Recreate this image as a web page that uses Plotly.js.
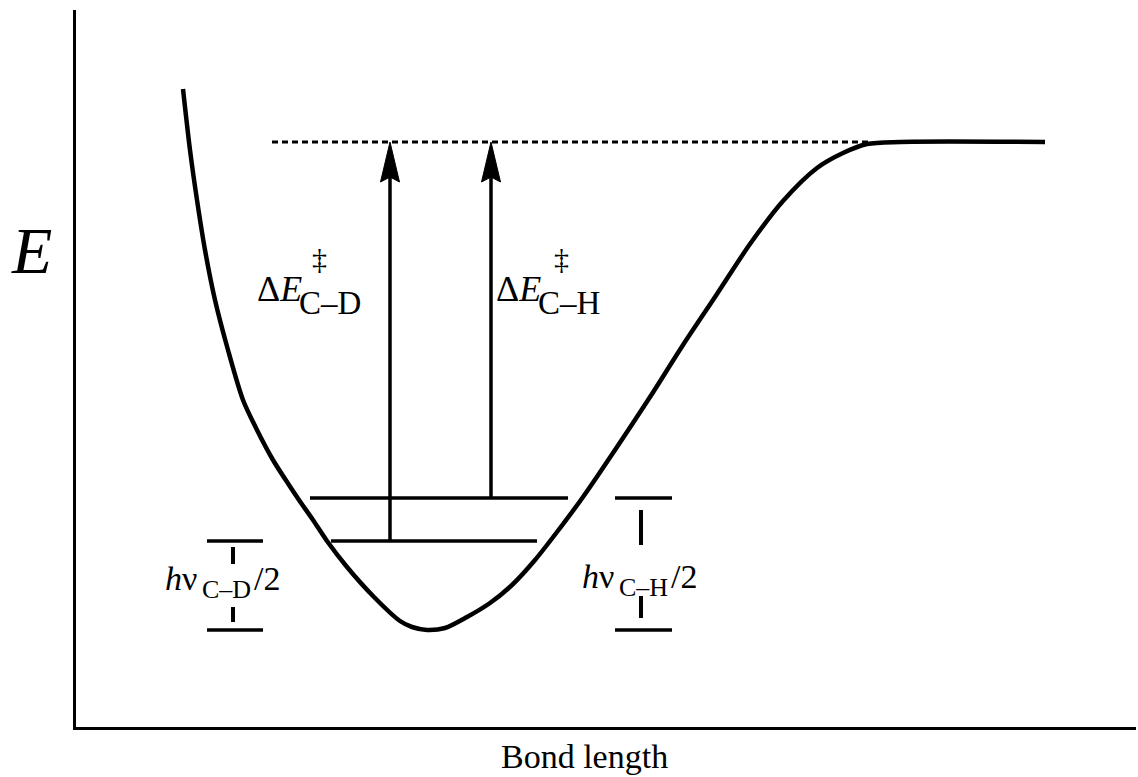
<!DOCTYPE html>
<html>
<head>
<meta charset="utf-8">
<script src="https://cdn.plot.ly/plotly-3.0.1.min.js"></script>
<style>html,body{margin:0;padding:0;background:#fff;}#chart{width:1138px;height:777px;}</style>
</head>
<body>
<div id="chart"></div>
<script>
// Potential energy curve (arbitrary units)
var bondLength = [1.07,1.14,1.21,1.29,1.39,1.52,1.67,1.81,1.97,2.13,2.23,2.37,2.51,2.71,2.98,3.24,3.36,3.51,3.69,3.91,4.14,4.36,4.59,4.81,5.07,5.41,5.74,6.07,6.41,6.74,7.07,7.41,7.67,7.91,8.24,9.69];
var energy     = [6.63,6.02,5.52,5.02,4.52,4.02,3.52,3.22,2.92,2.67,2.52,2.32,2.11,1.85,1.55,1.31,1.25,1.22,1.24,1.35,1.49,1.67,1.92,2.20,2.55,3.05,3.55,4.07,4.58,5.08,5.51,5.84,5.99,6.08,6.10,6.10];

// Axis ranges
var xRange = [0, 10.6];
var yRange = [0.25, 7.42];

// Energy levels
var minimumE = 1.22;
var dissociationE = 6.10;
var dissociationX = [1.96, 7.94];
var zpeCH = 2.54, zpeCHx = [2.34, 4.92];
var zpeCD = 2.11, zpeCDx = [2.55, 4.61];

// Activation arrows
var arrowCDx = 3.14, arrowCHx = 4.15;

// Bracket positions
var bracketCDx = [1.31, 1.87], bracketCDmid = 1.57;
var bracketCHx = [5.39, 5.96], bracketCHmid = 5.65;
var bracketCDdashes = [[2.05, 1.88], [1.45, 1.30]];
var bracketCHdashes = [[2.42, 2.07], [1.56, 1.34]];

// Label texts
var labelDeltaE = 'Δ<i>E</i>';
var labelDagger = '‡';
var labelCD = 'C–D', labelCH = 'C–H';
var labelHnu = '<i>h</i>ν', labelHalf = '/2';
var labelYaxis = '<i>E</i>', labelXaxis = 'Bond length';

var black = '#000';
var traces = [];
function seg(x, y, w, dash) {
  traces.push({x: x, y: y, mode: 'lines', type: 'scatter', hoverinfo: 'skip',
    line: {color: black, width: w, dash: dash || 'solid'}, showlegend: false});
}
// curve
traces.push({x: bondLength, y: energy, mode: 'lines', type: 'scatter', hoverinfo: 'skip',
  line: {color: black, width: 4.5, shape: 'spline', smoothing: 0.8}, showlegend: false});
// dissociation dashed line
seg(dissociationX, [dissociationE, dissociationE], 3, '6px,4px');
// ZPE levels
seg(zpeCHx, [zpeCH, zpeCH], 3.5);
seg(zpeCDx, [zpeCD, zpeCD], 3.5);
// arrows (shafts)
var headLen = 0.40, headHalf = 0.095;
seg([arrowCDx, arrowCDx], [zpeCD, dissociationE - headLen + 0.05], 3.5);
seg([arrowCHx, arrowCHx], [zpeCH, dissociationE - headLen + 0.05], 3.5);
// arrow heads
[arrowCDx, arrowCHx].forEach(function (ax) {
  traces.push({x: [ax - headHalf, ax, ax + headHalf, ax, ax - headHalf],
    y: [dissociationE - headLen, dissociationE, dissociationE - headLen, dissociationE - headLen + 0.05, dissociationE - headLen],
    mode: 'lines', fill: 'toself', fillcolor: black, line: {color: black, width: 1},
    type: 'scatter', hoverinfo: 'skip', showlegend: false});
});
// brackets
seg(bracketCDx, [zpeCD, zpeCD], 3.5);
seg(bracketCDx, [minimumE, minimumE], 3.5);
bracketCDdashes.forEach(function (d) { seg([bracketCDmid, bracketCDmid], d, 4); });
seg(bracketCHx, [zpeCH, zpeCH], 3.5);
seg(bracketCHx, [minimumE, minimumE], 3.5);
bracketCHdashes.forEach(function (d) { seg([bracketCHmid, bracketCHmid], d, 4); });

var serif = 'Liberation Serif, Times New Roman, serif';
function ann(text, x, y, size, xanchor, ref, yanchor) {
  return {text: text, x: x, y: y, xref: ref ? 'paper' : 'x', yref: ref ? 'paper' : 'y',
    showarrow: false, xanchor: xanchor || 'left', yanchor: yanchor || 'middle',
    borderpad: 0, font: {family: serif, size: size, color: black}};
}
var annotations = [
  ann(labelDeltaE, 1.80, 4.635, 36),
  ann(labelCD, 2.22, 4.495, 33),
  ann(labelDagger, 2.43, 4.94, 30, 'center'),
  ann(labelDeltaE, 4.19, 4.635, 36),
  ann(labelCH, 4.61, 4.495, 33),
  ann(labelDagger, 4.85, 4.94, 30, 'center'),
  ann(labelHnu, 0.88, 1.74, 34),
  ann(labelCD, 1.25, 1.63, 26),
  ann(labelHalf, 1.77, 1.74, 34),
  ann(labelHnu, 5.05, 1.76, 34),
  ann(labelCH, 5.42, 1.65, 26),
  ann(labelHalf, 5.94, 1.76, 34),
  ann(labelYaxis, -0.042, 0.664, 66, 'center', true),
  ann(labelXaxis, 0.40, -0.0685, 34, 'left', true, 'bottom')
];

var layout = {
  width: 1138, height: 777,
  margin: {l: 76, r: 2, t: 10, b: 50},
  paper_bgcolor: '#fff', plot_bgcolor: '#fff',
  showlegend: false,
  xaxis: {range: xRange, showline: true, linewidth: 3, linecolor: black, showgrid: false,
    zeroline: false, showticklabels: false, ticks: '', fixedrange: true},
  yaxis: {range: yRange, showline: true, linewidth: 3, linecolor: black, showgrid: false,
    zeroline: false, showticklabels: false, ticks: '', fixedrange: true},
  annotations: annotations
};
Plotly.newPlot('chart', traces, layout, {staticPlot: true, displayModeBar: false});
</script>
</body>
</html>
